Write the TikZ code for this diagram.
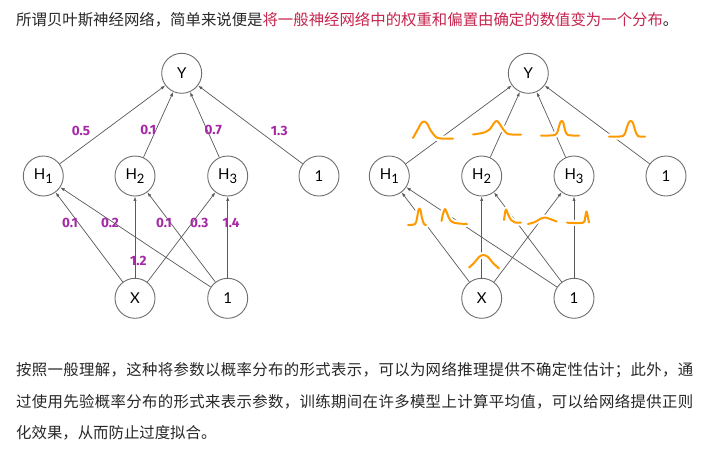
\documentclass[tikz,border=0pt]{standalone}
\usepackage{fontspec}
\setmainfont{Lato}
\newfontfamily\cjk{Noto Sans CJK SC}
\newfontfamily\labfont{Fira Sans}
\usetikzlibrary{arrows.meta}
\definecolor{edgecol}{RGB}{90,90,90}
\definecolor{circcol}{RGB}{110,110,110}
\definecolor{wlab}{RGB}{165,40,165}
\definecolor{bumpcol}{RGB}{255,153,0}
\definecolor{hl}{RGB}{199,37,78}
\definecolor{txt}{RGB}{40,40,40}
\makeatletter
\def\spreadchars#1#2{#1\spread@next#2\relax}
\def\spread@next#1{\ifx\relax#1\else\hfil#1\expandafter\spread@next\fi}
\makeatother
\newcommand{\Hsub}[1]{H\raisebox{-4pt}{\fontsize{13}{13}\selectfont #1}}
\tikzset{
  neuron/.style={circle, draw=circcol, line width=0.9pt, fill=white, minimum size=40pt, inner sep=0pt, font=\fontsize{15}{15}\selectfont, text=black},
  conn/.style={draw=edgecol, line width=0.7pt, -{Latex[length=4.5pt,width=3.2pt]}},
  wlabel/.style={text=wlab, font=\labfont\bfseries\fontsize{13.5}{13.5}\selectfont, inner sep=0pt},
  bumpmask/.style={draw=white, line width=6pt, line cap=round, line join=round},
  bumpline/.style={draw=bumpcol, line width=2pt, line cap=round, line join=round},
  cjktext/.style={font=\cjk\fontsize{15.4}{15.4}\selectfont, text=txt, inner sep=0pt, anchor=west}
}
\begin{document}
\begin{tikzpicture}[x=1pt,y=-1pt]
\useasboundingbox[fill=white] (0,0) rectangle (715,451);

% ---------- text ----------
\node[cjktext] (top) at (16,20) {所谓贝叶斯神经网络，简单来说便是\textcolor{hl}{将一般神经网络中的权重和偏置由确定的数值变为一个分布}。};
\node[cjktext] (p1) at (16,370) {\hbox to 677pt{\spreadchars 按{照一般理解，这种将参数以概率分布的形式表示，可以为网络推理提供不确定性估计；此外，通}}};
\node[cjktext] (p2) at (16,401.5) {\hbox to 677pt{\spreadchars 过{使用先验概率分布的形式来表示参数，训练期间在许多模型上计算平均值，可以给网络提供正则}}};
\node[cjktext] (p3) at (16,433) {化效果，从而防止过度拟合。};

% ---------- left network ----------
\node[neuron] (LY) at (181.7,73.3) {Y};
\node[neuron] (LH1) at (43.3,176) {\Hsub{1}};
\node[neuron] (LH2) at (135,176) {\Hsub{2}};
\node[neuron] (LH3) at (227.7,176) {\Hsub{3}};
\node[neuron] (LB1) at (319,176) {1};
\node[neuron] (LX) at (135,298.3) {X};
\node[neuron] (LB2) at (227.7,298.3) {1};

\draw[conn] (LH1) -- (LY);
\draw[conn] (LH2) -- (LY);
\draw[conn] (LH3) -- (LY);
\draw[conn] (LB1) -- (LY);
\draw[conn] (LX) -- (LH1);
\draw[conn] (LX) -- (LH2);
\draw[conn] (LX) -- (LH3);
\draw[conn] (LB2) -- (LH1);
\draw[conn] (LB2) -- (LH2);
\draw[conn] (LB2) -- (LH3);

\node[wlabel] (w1) at (81,130.7) {0.5};
\node[wlabel] (w2) at (148.3,130) {0.1};
\node[wlabel] (w3) at (213.3,130) {0.7};
\node[wlabel] (w4) at (279.3,130.7) {1.3};
\node[wlabel] (w5) at (70,222.7) {0.1};
\node[wlabel] (w6) at (110,222.7) {0.2};
\node[wlabel] (w7) at (164,222.7) {0.1};
\node[wlabel] (w8) at (199.3,222.7) {0.3};
\node[wlabel] (w9) at (231,222.7) {1.4};
\node[wlabel] (w10) at (138.3,260.7) {1.2};

% ---------- right network ----------
\node[neuron] (RY) at (528.3,73.3) {Y};
\node[neuron] (RH1) at (389.3,176) {\Hsub{1}};
\node[neuron] (RH2) at (481.7,176) {\Hsub{2}};
\node[neuron] (RH3) at (574,176) {\Hsub{3}};
\node[neuron] (RB1) at (666,176) {1};
\node[neuron] (RX) at (481.7,298.3) {X};
\node[neuron] (RB2) at (574,298.3) {1};

\draw[conn] (RH1) -- (RY);
\draw[conn] (RH2) -- (RY);
\draw[conn] (RH3) -- (RY);
\draw[conn] (RB1) -- (RY);
\draw[conn] (RX) -- (RH1);
\draw[conn] (RX) -- (RH2);
\draw[conn] (RX) -- (RH3);
\draw[conn] (RB2) -- (RH1);
\draw[conn] (RB2) -- (RH2);
\draw[conn] (RB2) -- (RH3);

% bumps (distributions)
\foreach \sty in {bumpmask,bumpline}{
  \draw[\sty] plot[smooth, tension=0.55] coordinates {(413,138) (418,129) (421,123.5) (424,121.5) (427,123.5) (431,131) (436,137) (441,138.5) (453,138.5)};
  \draw[\sty] plot[smooth, tension=0.55] coordinates {(473,134.5) (484,132.5) (490,129) (494,123) (496.5,121) (499,123) (503,129) (507,133.5) (512,134.5) (521,134.5)};
  \draw[\sty] plot[smooth, tension=0.55] coordinates {(541,135.5) (555,135) (558,130) (560,123) (561.7,121) (563.4,123) (565,130) (568,135) (579,135.5)};
  \draw[\sty] plot[smooth, tension=0.55] coordinates {(609,136.5) (623,136) (626,130) (628.5,123) (630.7,121) (633,123) (635,130) (638,136) (645,136.5)};
  \draw[\sty] plot[smooth, tension=0.55] coordinates {(408,225) (415,224) (417,218) (418.5,210) (419.5,208.5) (420.5,210) (422,218) (424,224) (426,225)};
  \draw[\sty] plot[smooth, tension=0.55] coordinates {(441.5,221) (443,214) (445,209) (447,213) (450,220) (455,223) (467,224)};
  \draw[\sty] plot[smooth, tension=0.55] coordinates {(504,220) (505,213) (506,209.5) (508,214) (511,220) (515,222.5) (521,222.5)};
  \draw[\sty] plot[smooth, tension=0.55] coordinates {(528,224) (535,222) (540,219) (545,217.5) (550,219) (556.7,221.5)};
  \draw[\sty] plot[smooth, tension=0.55] coordinates {(567,222.7) (583,222.7) (585,218) (586.5,211.5) (588,218) (589,222.5)};
  \draw[\sty] plot[smooth, tension=0.55] coordinates {(469,267.5) (474,263) (479,257) (483.3,255) (488,257) (493,263) (499,268.5)};
}
\end{tikzpicture}
\end{document}
